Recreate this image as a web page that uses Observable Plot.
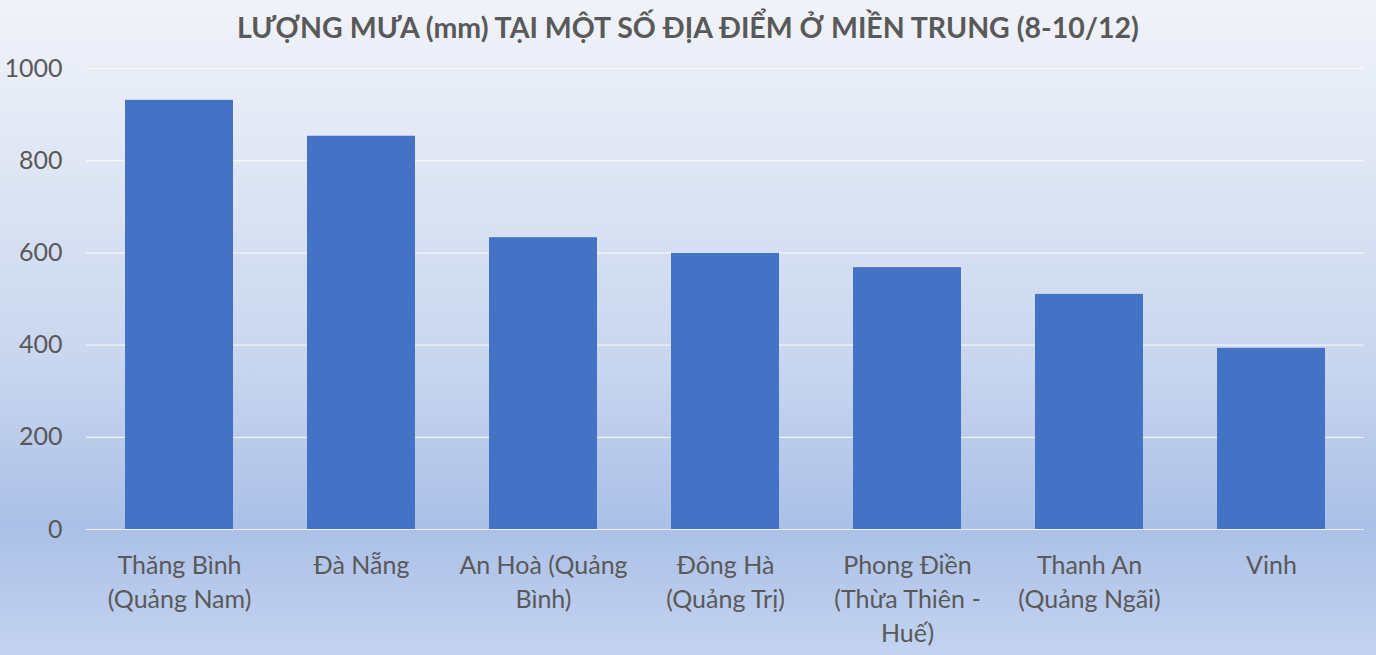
<!DOCTYPE html>
<html>
<head>
<meta charset="utf-8">
<script src="https://cdn.jsdelivr.net/npm/d3@7"></script>
<script src="https://cdn.jsdelivr.net/npm/@observablehq/plot@0.6"></script>
<style>
  html, body { margin: 0; padding: 0; }
  #chart {
    width: 1376px; height: 655px; overflow: hidden;
    background: linear-gradient(to bottom, #f1f3f9 0%, #dfe6f4 25%, #c9d6ef 55%, #abc0e7 80%, #c3d3f0 100%);
    font-family: Lato, "Open Sans", sans-serif;
  }
  #title {
    height: 55px; line-height: 55px; text-align: center;
    font-weight: bold; font-size: 28.5px; color: #595959;
  }
  #chart svg { display: block; background: transparent; overflow: visible; }
</style>
</head>
<body>
<div id="chart">
  <div id="title">LƯỢNG MƯA (mm) TẠI MỘT SỐ ĐỊA ĐIỂM Ở MIỀN TRUNG (8-10/12)</div>
</div>
<script>
const locations = [
  "Thăng Bình\n(Quảng Nam)",
  "Đà Nẵng",
  "An Hoà (Quảng\nBình)",
  "Đông Hà\n(Quảng Trị)",
  "Phong Điền\n(Thừa Thiên -\nHuế)",
  "Thanh An\n(Quảng Ngãi)",
  "Vinh"
];
const rainfall = [931, 853, 633, 599, 568, 510, 393];
const yTicks = [0, 200, 400, 600, 800, 1000];

const data = locations.map((loc, i) => ({loc, value: rainfall[i]}));

const chart = Plot.plot({
  width: 1376,
  height: 600,
  marginTop: 13,
  marginBottom: 126,
  marginLeft: 86,
  marginRight: 12,
  style: {background: "transparent", fontFamily: "Lato, 'Open Sans', sans-serif"},
  x: {domain: locations, paddingInner: 0.405, paddingOuter: 0.2025, label: null},
  y: {domain: [0, 1000], label: null},
  marks: [
    Plot.gridY(yTicks, {stroke: "#ffffff", strokeOpacity: 0.75, strokeWidth: 1.2}),
    Plot.barY(data, {x: "loc", y: "value", fill: "#4472c4"}),
    Plot.axisY(yTicks, {tickSize: 0, tickPadding: 24, fontSize: 25, fill: "#595959", tickFormat: d => String(d), label: null}),
    Plot.axisX({tickSize: 0, tickPadding: 20, fontSize: 25, fill: "#595959", lineHeight: 1.36, label: null})
  ]
});
document.getElementById("chart").appendChild(chart);
</script>
</body>
</html>
